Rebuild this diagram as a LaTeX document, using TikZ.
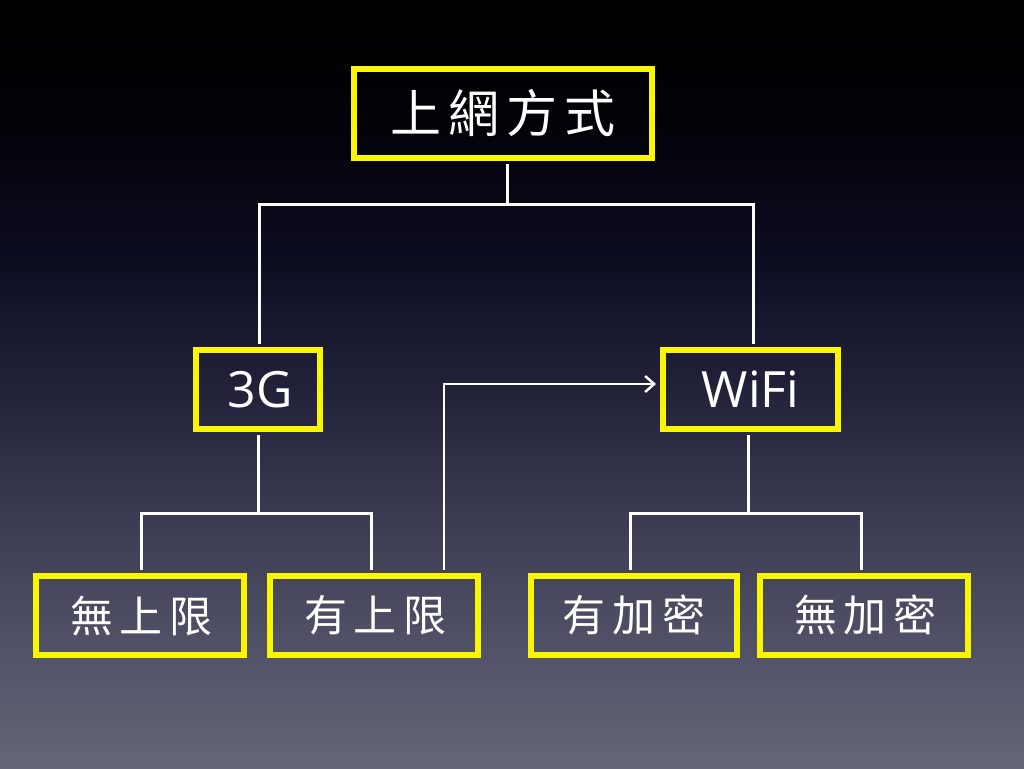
\documentclass[tikz,border=0pt]{standalone}
\usepackage{fontspec}
\setmainfont{Open Sans}
\newfontfamily\cjk{Noto Sans CJK TC}
\usetikzlibrary{arrows.meta}
\definecolor{bgA}{RGB}{102,102,122}
\definecolor{bgB}{RGB}{56,56,80}
\definecolor{bgC}{RGB}{33,33,58}
\definecolor{bgD}{RGB}{12,12,32}
\definecolor{bgE}{RGB}{2,2,8}
\definecolor{bgF}{RGB}{0,0,0}
\definecolor{boxyellow}{RGB}{250,245,0}
\pgfdeclareverticalshading{bgshade}{100bp}{color(0bp)=(bgA); color(25bp)=(bgA); color(42.4bp)=(bgB); color(49.7bp)=(bgC); color(58.7bp)=(bgD); color(67bp)=(bgE); color(75bp)=(bgF); color(100bp)=(bgF)}
\tikzset{
  ybox/.style={draw=boxyellow, line width=6pt, inner sep=0pt, text=white, minimum height=79pt},
  conn/.style={draw=white, line width=3pt},
  arr/.style={draw=white, line width=2.5pt, -{Straight Barb[length=9pt,width=16pt,line width=2.5pt]}},
  bigcjk/.style={font=\cjk\fontsize{51}{60}\selectfont},
  smallcjk/.style={font=\cjk\fontsize{43}{50}\selectfont},
  latin/.style={font=\fontsize{50}{60}\selectfont}
}
\begin{document}
\begin{tikzpicture}[x=1pt,y=-1pt]
\useasboundingbox (0,0) rectangle (1024,768);
\fill[shading=bgshade] (0,0) rectangle (1024,768);
\node[ybox, bigcjk, minimum width=298pt, minimum height=89pt] (top) at (503,113.5) {上\kern7pt 網\kern7pt 方\kern7pt 式};
\node[ybox, latin, minimum width=124pt] (g3) at (258,389.5) {\kern4pt 3G};
\node[ybox, latin, minimum width=175pt] (wifi) at (750.5,389.5) {WiFi};
\node[ybox, smallcjk, minimum width=208pt] (nolim) at (140,615.5) {\kern3pt 無\kern7pt 上\kern7pt 限};
\node[ybox, smallcjk, minimum width=208pt] (lim) at (374,615) {\kern3pt 有\kern7pt 上\kern7pt 限};
\node[ybox, smallcjk, minimum width=206pt] (enc) at (634,615) {有\kern7pt 加\kern7pt 密};
\node[ybox, smallcjk, minimum width=208pt] (noenc) at (864,615) {\kern3pt 無\kern7pt 加\kern7pt 密};
\coordinate (j1) at (507,204);
\coordinate (j2) at (258,513);
\coordinate (j3) at (748,513);
% top tree
\draw[conn] ([xshift=4pt,yshift=-3pt]top.south) -- ([xshift=4pt]top.south |- j1);
\draw[conn] ([xshift=1pt,yshift=3pt]g3.north) |- ([xshift=2.5pt]wifi.north |- j1) -- ([xshift=2.5pt,yshift=3pt]wifi.north);
% 3G subtree
\draw[conn] ([yshift=-3pt]g3.south) -- (j2);
\draw[conn] ([xshift=1pt,yshift=3pt]nolim.north) |- ([xshift=-3pt]lim.north |- j2) -- ([xshift=-3pt,yshift=3pt]lim.north);
% WiFi subtree
\draw[conn] ([xshift=-2.5pt,yshift=-3pt]wifi.south) -- (j3);
\draw[conn] ([xshift=-4pt,yshift=3pt]enc.north) |- ([xshift=-3pt]noenc.north |- j3) -- ([xshift=-3pt,yshift=3pt]noenc.north);
% arrow
\draw[arr] ([xshift=70pt,yshift=3pt]lim.north) |- ([xshift=-4pt,yshift=5.5pt]wifi.west);
\end{tikzpicture}
\end{document}
